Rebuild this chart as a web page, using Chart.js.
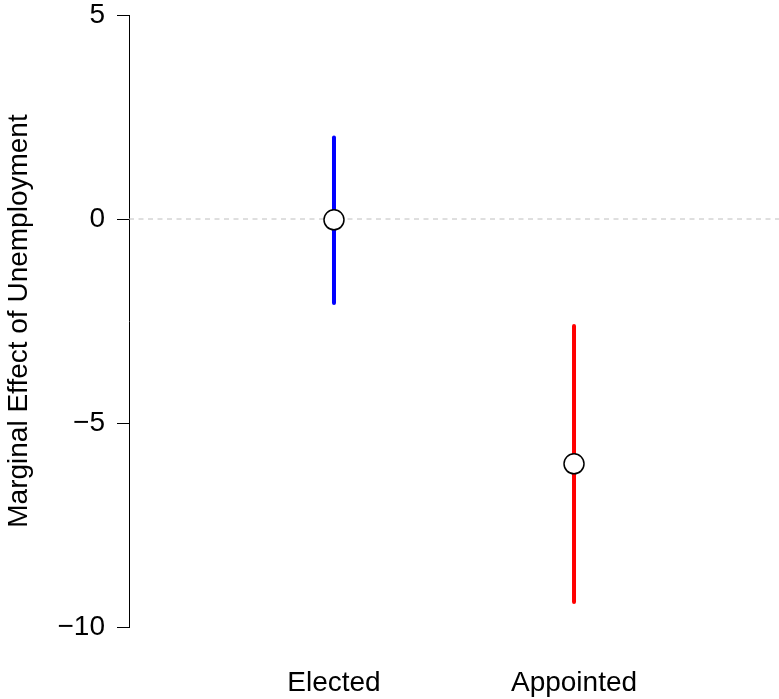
<!DOCTYPE html>
<html>
<head>
<meta charset="utf-8">
<script src="https://cdn.jsdelivr.net/npm/chart.js@4/dist/chart.umd.min.js"></script>
<style>
  html, body { margin: 0; padding: 0; background: #fff; }
  #wrap { width: 779px; height: 699px; }
</style>
</head>
<body>
<div id="wrap"><canvas id="chart"></canvas></div>
<script>
/* Marginal effect of unemployment — elected vs appointed, point + interval */

const categories = ['Elected', 'Appointed'];
const estimates  = [-0.02, -6.0];
const lowerCI    = [-2.06, -9.39];
const upperCI    = [2.0, -2.62];
const barColors  = ['#0000ff', '#ff0000'];
const yTicks     = [-10, -5, 0, 5];

const X_MIN = 0.146, X_MAX = 2.854;
const FONT  = 'Liberation Sans, Arial, Helvetica, sans-serif';

// one line dataset per interval
const intervalSets = categories.map((c, i) => ({
  type:           'line',
  label:          c + ' CI',
  data:           [{ x: i + 1, y: lowerCI[i] }, { x: i + 1, y: upperCI[i] }],
  borderColor:    barColors[i],
  borderWidth:    4,
  borderCapStyle: 'round',
  pointRadius:    0,
  order:          1
}));

const zeroLine = {
  type:        'line',
  label:       'zero',
  data:        [{ x: X_MIN, y: 0 }, { x: X_MAX, y: 0 }],
  borderColor: '#bebebe',
  borderWidth: 1,
  borderDash:  [5, 4.5],
  pointRadius: 0,
  order:       2
};

const pointSet = {
  type:             'scatter',
  label:            'estimate',
  data:             estimates.map((v, i) => ({ x: i + 1, y: v })),
  backgroundColor:  '#ffffff',
  borderColor:      '#000000',
  borderWidth:      1.5,
  pointRadius:      10,
  order:            0
};

new Chart(document.getElementById('chart'), {
  type: 'scatter',
  data: { datasets: [pointSet, ...intervalSets, zeroLine] },
  options: {
    responsive:          true,
    maintainAspectRatio: false,
    animation:           false,
    layout: { padding: 0, autoPadding: false },
    plugins: {
      legend:  { display: false },
      tooltip: { enabled: false }
    },
    scales: {
      x: {
        type: 'linear',
        min:  X_MIN,
        max:  X_MAX,
        grid:   { display: false },
        border: { display: false },
        afterBuildTicks: s => { s.ticks = categories.map((c, i) => ({ value: i + 1 })); },
        afterFit: s => { s.height = 72; s.paddingLeft = 0; s.paddingRight = 0; },
        ticks: {
          color:   '#000',
          font:    { family: FONT, size: 28 },
          padding: 31,
          maxRotation: 0,
          callback: v => categories[v - 1]
        }
      },
      y: {
        min: -10,
        max: 5,
        afterBuildTicks: s => { s.ticks = yTicks.map(v => ({ value: v })); },
        afterFit: s => { s.width = 129; s.paddingTop = 15; s.paddingBottom = 0; },
        grid: {
          drawOnChartArea: false,
          drawTicks:       true,
          tickLength:      12,
          color:           '#000',
          lineWidth:       1
        },
        border: { display: true, color: '#000', width: 1 },
        ticks: {
          color:   '#000',
          font:    { family: FONT, size: 28, lineHeight: 30 / 28 },
          padding: 12,
          callback: v => v < 0 ? '\u2212' + Math.abs(v) : String(v)
        },
        title: {
          display: true,
          text:    'Marginal Effect of Unemployment',
          color:   '#000',
          font:    { family: FONT, size: 28 },
          padding: { top: 2, bottom: 0 }
        }
      }
    }
  }
});
</script>
</body>
</html>
